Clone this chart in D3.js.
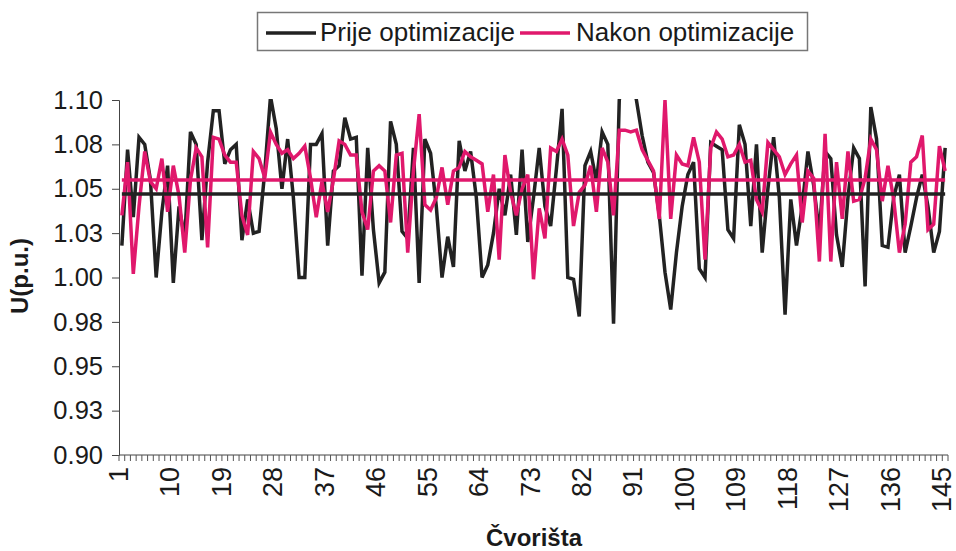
<!DOCTYPE html>
<html><head><meta charset="utf-8">
<script src="https://cdn.jsdelivr.net/npm/d3@7"></script>
<style>body{margin:0;background:#fff}text{font-family:"Liberation Sans",Arial,sans-serif;fill:#1a1a1a}</style>
</head><body>
<svg id="chart" width="956" height="551"></svg>
<script>
const categories = d3.range(1, 146);
const before = [
1.018,1.072,1.034,1.079,1.075,1.055,1.000,1.037,1.063,0.997,
1.040,1.022,1.082,1.075,1.021,1.065,1.094,1.094,1.064,1.072,
1.075,1.021,1.044,1.025,1.026,1.060,1.102,1.084,1.050,1.078,
1.045,1.000,1.000,1.075,1.075,1.081,1.018,1.060,1.063,1.090,
1.078,1.079,1.001,1.073,1.027,0.997,1.003,1.088,1.075,1.026,
1.022,1.073,0.997,1.078,1.070,1.040,1.000,1.023,1.006,1.077,
1.060,1.071,1.045,1.000,1.007,1.025,1.050,1.035,1.058,1.024,
1.072,1.020,1.045,1.073,1.040,1.029,1.061,1.095,1.000,0.999,
0.978,1.063,1.071,1.054,1.082,1.075,0.974,1.100,1.115,1.115,
1.100,1.080,1.065,1.059,1.035,1.003,0.982,1.014,1.040,1.058,
1.065,1.005,1.000,1.076,1.074,1.072,1.027,1.022,1.086,1.075,
1.029,1.075,1.014,1.050,1.079,1.045,0.979,1.044,1.018,1.040,
1.071,1.052,1.025,1.071,1.067,1.024,1.006,1.045,1.073,1.067,
0.995,1.096,1.078,1.018,1.017,1.045,1.058,1.014,1.029,1.045,
1.058,1.040,1.014,1.026,1.073];
const after = [
1.035,1.065,1.002,1.040,1.071,1.054,1.050,1.067,1.037,1.063,
1.046,1.014,1.055,1.073,1.068,1.017,1.079,1.078,1.069,1.065,
1.065,1.035,1.024,1.071,1.067,1.056,1.082,1.075,1.070,1.072,
1.067,1.070,1.074,1.056,1.034,1.054,1.037,1.055,1.077,1.075,
1.069,1.069,1.037,1.027,1.060,1.063,1.060,1.031,1.069,1.070,
1.014,1.060,1.092,1.041,1.038,1.045,1.062,1.041,1.060,1.062,
1.071,1.068,1.066,1.064,1.037,1.058,1.010,1.069,1.048,1.035,
1.050,1.058,0.999,1.039,1.022,1.073,1.071,1.078,1.069,1.029,
1.048,1.052,1.063,1.037,1.073,1.065,1.035,1.083,1.083,1.082,
1.083,1.072,1.066,1.060,1.033,1.100,1.033,1.069,1.064,1.063,
1.079,1.065,1.010,1.073,1.082,1.078,1.068,1.069,1.075,1.065,
1.066,1.044,1.037,1.076,1.072,1.068,1.058,1.064,1.069,1.031,
1.060,1.056,1.009,1.081,1.009,1.065,1.033,1.071,1.043,1.044,
1.056,1.078,1.072,1.043,1.063,1.044,1.014,1.030,1.065,1.068,
1.080,1.027,1.030,1.074,1.060];
const levelBefore = 1.047;
const levelAfter = 1.055;
const yTickValues = [0.9, 0.925, 0.95, 0.975, 1.0, 1.025, 1.05, 1.075, 1.1];
const yTickLabels = ["0.90","0.93","0.95","0.98","1.00","1.03","1.05","1.08","1.10"];
const xTickLabels = [1,10,19,28,37,46,55,64,73,82,91,100,109,118,127,136,145];
const seriesNames = ["Prije optimizacije", "Nakon optimizacije"];
const seriesColors = ["#222222", "#e0186c"];

const svg = d3.select("#chart");
const L = 119, R = 948, T = 100, B = 455;
const x = d3.scaleBand().domain(categories).range([L, R]).padding(0);
const cx = c => x(c) + x.bandwidth() / 2;
const y = d3.scaleLinear().domain([0.9, 1.1]).range([B, T]);

svg.append("defs").append("clipPath").attr("id", "clip")
  .append("rect").attr("x", L).attr("y", T - 1).attr("width", R - L).attr("height", B - T + 1);

// y axis
const yAxis = d3.axisLeft(y).tickValues(yTickValues).tickSize(7)
  .tickFormat((d, i) => yTickLabels[i]);
const gy = svg.append("g").attr("transform", `translate(${L},0)`).call(yAxis);
gy.select(".domain").attr("stroke", "#444").attr("stroke-width", 1);
gy.selectAll(".tick line").attr("stroke", "#444");
gy.selectAll(".tick text").attr("x", -16).attr("font-size", 25.5)
  .attr("font-family", "Liberation Sans, Arial, sans-serif").attr("fill", "#1a1a1a");

// x axis
const gx = svg.append("g");
gx.append("line").attr("x1", L).attr("x2", R).attr("y1", B).attr("y2", B)
  .attr("stroke", "#444").attr("stroke-width", 1);
const bounds = categories.map(c => x(c)).concat([x(categories[categories.length - 1]) + x.bandwidth()]);
gx.selectAll("line.t").data(bounds).join("line").attr("class", "t")
  .attr("x1", d => d).attr("x2", d => d).attr("y1", B).attr("y2", B + 6)
  .attr("stroke", "#555").attr("stroke-width", 1);
gx.selectAll("text").data(xTickLabels).join("text")
  .attr("transform", d => `translate(${cx(d) + 6},${B + 12}) rotate(-90)`)
  .attr("text-anchor", "end").attr("font-size", 27).text(d => d);

// series
const line = d3.line().x((d, i) => cx(categories[i])).y(d => y(d));
const plot = svg.append("g").attr("clip-path", "url(#clip)");
plot.append("path").datum(before).attr("d", line).attr("fill", "none")
  .attr("stroke", seriesColors[0]).attr("stroke-width", 3.5).attr("stroke-linejoin", "miter");
plot.append("path").datum(after).attr("d", line).attr("fill", "none")
  .attr("stroke", seriesColors[1]).attr("stroke-width", 3.5).attr("stroke-linejoin", "miter");
const first = cx(categories[0]), last = cx(categories[categories.length - 1]);
plot.append("line").attr("x1", first).attr("x2", last)
  .attr("y1", y(levelAfter)).attr("y2", y(levelAfter))
  .attr("stroke", seriesColors[1]).attr("stroke-width", 3.5);
plot.append("line").attr("x1", first).attr("x2", last)
  .attr("y1", y(levelBefore)).attr("y2", y(levelBefore))
  .attr("stroke", seriesColors[0]).attr("stroke-width", 3.5);

// axis titles
svg.append("text").attr("transform", `translate(28,276) rotate(-90)`)
  .attr("text-anchor", "middle").attr("font-size", 24).attr("font-weight", "bold").text("U(p.u.)");
svg.append("text").attr("x", 534).attr("y", 546)
  .attr("text-anchor", "middle").attr("font-size", 24).attr("font-weight", "bold").text("Čvorišta");

// legend
const lg = svg.append("g");
lg.append("rect").attr("x", 257.5).attr("y", 12.5).attr("width", 550).attr("height", 38)
  .attr("fill", "#fff").attr("stroke", "#777").attr("stroke-width", 1.5);
const items = [{x: 266, tx: 320}, {x: 520, tx: 576}];
items.forEach((it, i) => {
  lg.append("line").attr("x1", it.x).attr("x2", it.x + 50).attr("y1", 33).attr("y2", 33)
    .attr("stroke", seriesColors[i]).attr("stroke-width", 3.5);
  lg.append("text").attr("x", it.tx).attr("y", 41).attr("font-size", 26).text(seriesNames[i]);
});
</script>
</body></html>
